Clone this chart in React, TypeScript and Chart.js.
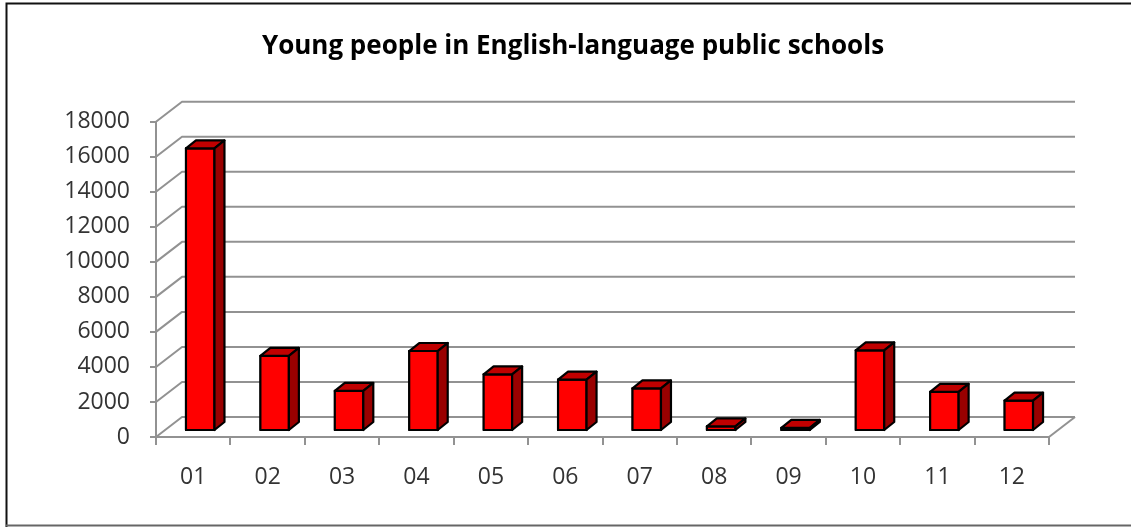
import React, { useEffect, useRef } from "react";
import { Chart, registerables } from "chart.js";

Chart.register(...registerables);

const titleText = "Young people in English-language public schools";
const categories = ["01", "02", "03", "04", "05", "06", "07", "08", "09", "10", "11", "12"];
const values = [16250, 4400, 2400, 4680, 3350, 3050, 2550, 380, 290, 4720, 2350, 1850];
const yTickValues = [0, 2000, 4000, 6000, 8000, 10000, 12000, 14000, 16000, 18000];

const GRID = "#929292";
const WALL_DX = 26;
const WALL_DY = -20;
const BAR_DX = 7;
const BAR_DY = -5;
const DEPTH_DX = 10;
const DEPTH_DY = -8;

const threeDPlugin = {
  id: "threeD",
  beforeDraw(chart: any) {
    const ctx = chart.ctx;
    ctx.save();
    ctx.fillStyle = "#ffffff";
    ctx.fillRect(0, 0, chart.width, chart.height);
    // outer frame
    ctx.strokeStyle = "#111111";
    ctx.lineWidth = 2;
    ctx.beginPath();
    ctx.moveTo(6.5, chart.height);
    ctx.lineTo(6.5, 3.5);
    ctx.lineTo(chart.width + 5, 3.5);
    ctx.stroke();
    ctx.strokeStyle = "#666666";
    ctx.beginPath();
    ctx.moveTo(6, chart.height - 1.5);
    ctx.lineTo(chart.width + 5, chart.height - 1.5);
    ctx.stroke();
    // title
    ctx.fillStyle = "#000000";
    ctx.font = 'bold 26px "Open Sans"';
    ctx.textAlign = "center";
    ctx.textBaseline = "alphabetic";
    ctx.fillText(titleText, 573, 54);
    ctx.restore();
  },
  beforeDatasetsDraw(chart: any) {
    const ctx = chart.ctx;
    const ys = chart.scales.y;
    const { left, right, bottom } = chart.chartArea;
    ctx.save();
    ctx.strokeStyle = GRID;
    ctx.lineWidth = 2;
    ctx.lineJoin = "round";
    for (const v of yTickValues) {
      const y = ys.getPixelForValue(v);
      ctx.beginPath();
      ctx.moveTo(left, y);
      ctx.lineTo(left + WALL_DX, y + WALL_DY);
      ctx.lineTo(right + WALL_DX, y + WALL_DY);
      ctx.stroke();
    }
    ctx.beginPath();
    ctx.moveTo(right, bottom);
    ctx.lineTo(right + WALL_DX, bottom + WALL_DY);
    ctx.stroke();
    ctx.restore();
  },
  beforeDatasetDraw(chart: any) {
    chart.ctx.save();
    chart.ctx.translate(BAR_DX, BAR_DY);
  },
  afterDatasetDraw(chart: any, args: any) {
    const ctx = chart.ctx;
    const meta = args.meta;
    ctx.lineWidth = 2.2;
    ctx.lineJoin = "round";
    ctx.strokeStyle = "#000000";
    for (const el of meta.data) {
      const { x, y, base, width } = el.getProps(["x", "y", "base", "width"], true);
      const l = x - width / 2 + 1;
      const r = x + width / 2 - 1;
      const t = y + 1;
      const b = base - 1;
      // front outline (thicker, like the reference)
      ctx.strokeRect(l, t, r - l, b - t);
      // top face
      ctx.beginPath();
      ctx.moveTo(l, t);
      ctx.lineTo(r, t);
      ctx.lineTo(r + DEPTH_DX, t + DEPTH_DY);
      ctx.lineTo(l + DEPTH_DX, t + DEPTH_DY);
      ctx.closePath();
      ctx.fillStyle = "#c00000";
      ctx.fill();
      ctx.stroke();
      // side face
      ctx.beginPath();
      ctx.moveTo(r, t);
      ctx.lineTo(r + DEPTH_DX, t + DEPTH_DY);
      ctx.lineTo(r + DEPTH_DX, b + DEPTH_DY);
      ctx.lineTo(r, b);
      ctx.closePath();
      ctx.fillStyle = "#990000";
      ctx.fill();
      ctx.stroke();
    }
    ctx.restore();
  },
};

export default function App() {
  const ref = useRef<HTMLCanvasElement | null>(null);
  useEffect(() => {
    if (!ref.current) return;
    const chart = new Chart(ref.current, {
      type: "bar",
      data: {
        labels: categories,
        datasets: [
          {
            data: values,
            backgroundColor: "#ff0000",
            borderColor: "#000000",
            borderWidth: 1,
            borderSkipped: false,
            categoryPercentage: 1,
            barPercentage: 0.41,
            clip: false as any,
          },
        ],
      },
      options: {
        animation: false,
        responsive: true,
        maintainAspectRatio: false,
        layout: { padding: { top: 121.7, right: 82, bottom: 0, left: 0 } },
        plugins: { legend: { display: false }, tooltip: { enabled: false }, title: { display: false } },
        scales: {
          x: {
            grid: {
              offset: true,
              drawOnChartArea: false,
              drawTicks: true,
              tickLength: 8,
              color: GRID,
              lineWidth: 2,
            },
            border: { display: true, color: GRID, width: 2 },
            ticks: {
              color: "#333333",
              font: { family: "Open Sans", size: 23 },
              padding: 19,
              maxRotation: 0,
            },
            afterFit: (s: any) => {
              s.height = 90;
            },
          },
          y: {
            min: 0,
            max: 18000,
            afterBuildTicks: (s: any) => {
              s.ticks = yTickValues.map((v) => ({ value: v }));
            },
            grid: {
              drawOnChartArea: false,
              drawTicks: true,
              tickLength: 6,
              color: GRID,
              lineWidth: 2,
            },
            border: { display: true, color: GRID, width: 2 },
            ticks: {
              color: "#333333",
              font: { family: "Open Sans", size: 23 },
              padding: 20,
              callback: (v: any) => String(v),
            },
            afterFit: (s: any) => {
              s.width = 156;
            },
          },
        },
      },
      plugins: [threeDPlugin],
    });
    return () => chart.destroy();
  }, []);
  return (
    <div style={{ position: "absolute", left: 0, top: 0, width: 1131, height: 527 }}>
      <canvas ref={ref} />
    </div>
  );
}
